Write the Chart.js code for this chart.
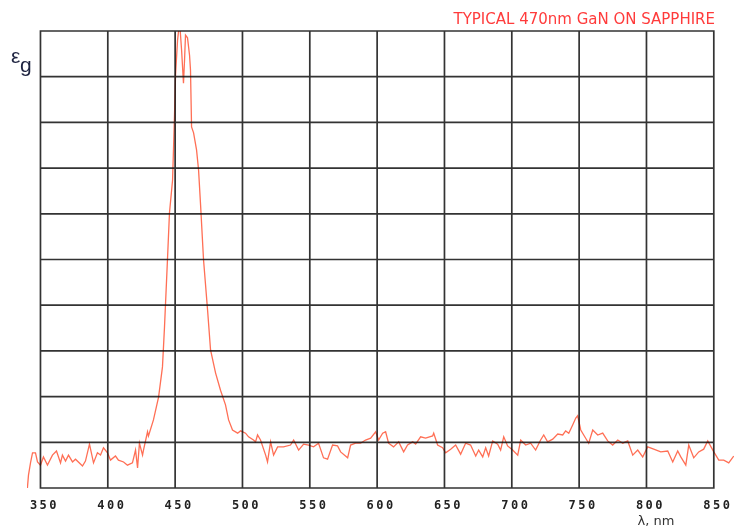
<!DOCTYPE html>
<html>
<head>
<meta charset="utf-8">
<script src="https://cdn.jsdelivr.net/npm/chart.js@4/dist/chart.umd.min.js"></script>
<style>
html,body{margin:0;padding:0;background:#fff;}
#wrap{width:734px;height:531px;position:relative;}
</style>
</head>
<body>
<div id="wrap"><canvas id="c" width="734" height="531"></canvas></div>
<script>
const titleText = 'TYPICAL 470nm GaN ON SAPPHIRE';
const xAxisTitle = 'λ, nm';
const xTicks = [350, 400, 450, 500, 550, 600, 650, 700, 750, 800, 850];
const yDivisions = [0, 1, 2, 3, 4, 5, 6, 7, 8, 9, 10];
const wavelengths = [
  340.3, 341.1, 342.6, 344.1, 346.3, 347.8, 350.0, 352.2, 355.2, 358.9,
  361.9, 364.9, 366.3, 368.6, 370.8, 373.8, 376.0, 381.2, 383.4, 386.4,
  389.4, 392.3, 394.6, 396.8, 399.8, 402.0, 405.7, 407.9, 411.7, 414.6,
  418.3, 420.6, 422.1, 423.5, 425.8, 426.5, 429.5, 430.2, 433.9, 437.7,
  440.6, 442.1, 444.3, 445.8, 448.1, 449.5, 450.3, 451.8, 453.3, 454.8,
  456.2, 457.0, 457.7, 459.2, 460.7, 461.4, 462.2, 463.7, 465.9, 467.4,
  468.9, 471.1, 474.1, 476.3, 480.0, 483.7, 487.4, 489.7, 492.6, 496.4,
  498.6, 502.3, 504.5, 508.2, 509.7, 511.2, 513.4, 517.2, 518.6, 520.9,
  523.1, 526.1, 530.5, 535.7, 538.0, 541.7, 545.4, 549.1, 552.8, 556.5,
  560.2, 563.2, 566.9, 570.6, 572.9, 578.1, 580.3, 584.0, 587.7, 591.4,
  595.2, 598.9, 601.1, 604.1, 606.3, 608.5, 612.2, 616.0, 619.7, 622.6,
  626.4, 628.6, 632.3, 636.0, 641.2, 642.0, 644.9, 648.6, 650.9, 654.6,
  658.3, 662.0, 665.7, 669.4, 673.2, 675.4, 678.4, 680.6, 682.8, 685.8,
  689.5, 691.7, 694.0, 696.9, 700.6, 704.4, 706.6, 710.3, 714.0, 717.7,
  721.4, 723.7, 726.6, 730.4, 734.1, 737.8, 740.0, 742.3, 745.2, 747.5,
  748.9, 751.2, 753.4, 757.1, 760.1, 763.8, 767.5, 771.2, 774.9, 778.7,
  782.4, 786.1, 789.8, 793.5, 797.2, 800.9, 805.4, 810.6, 815.8, 819.5,
  823.2, 825.5, 829.2, 831.4, 835.1, 838.8, 842.5, 845.5, 850.0, 853.7,
  857.4, 861.1, 864.8
];
const intensity = [
  0.00, 0.28, 0.55, 0.77, 0.77, 0.57, 0.50, 0.68, 0.50, 0.72,
  0.81, 0.55, 0.72, 0.59, 0.72, 0.57, 0.63, 0.48, 0.59, 0.96,
  0.55, 0.77, 0.72, 0.88, 0.77, 0.61, 0.70, 0.61, 0.57, 0.50,
  0.55, 0.83, 0.44, 0.98, 0.72, 0.83, 1.23, 1.14, 1.49, 1.99,
  2.65, 3.52, 4.99, 6.02, 6.74, 8.12, 9.04, 9.80, 10.20, 9.58,
  8.86, 9.37, 9.91, 9.85, 9.47, 9.15, 7.90, 7.77, 7.40, 6.96,
  6.19, 4.99, 3.89, 3.02, 2.52, 2.14, 1.82, 1.49, 1.27, 1.20,
  1.25, 1.20, 1.12, 1.05, 1.01, 1.16, 1.05, 0.72, 0.57, 1.01,
  0.72, 0.90, 0.90, 0.94, 1.05, 0.83, 0.96, 0.94, 0.90, 0.98,
  0.66, 0.63, 0.94, 0.92, 0.79, 0.66, 0.94, 0.98, 0.98, 1.05,
  1.09, 1.23, 1.05, 1.20, 1.23, 0.98, 0.90, 1.01, 0.79, 0.94,
  1.01, 0.96, 1.12, 1.09, 1.14, 1.20, 0.94, 0.88, 0.77, 0.85,
  0.94, 0.74, 0.98, 0.94, 0.70, 0.83, 0.68, 0.88, 0.70, 1.03,
  0.96, 0.83, 1.12, 0.92, 0.83, 0.72, 1.05, 0.94, 0.98, 0.83,
  1.05, 1.16, 1.01, 1.07, 1.18, 1.16, 1.25, 1.20, 1.38, 1.53,
  1.58, 1.27, 1.16, 0.98, 1.27, 1.16, 1.20, 1.03, 0.94, 1.05,
  0.98, 1.03, 0.72, 0.83, 0.68, 0.90, 0.85, 0.79, 0.81, 0.57,
  0.81, 0.68, 0.50, 0.94, 0.66, 0.79, 0.85, 1.03, 0.79, 0.61,
  0.61, 0.55, 0.70
];

const points = wavelengths.map((w, i) => ({x: w, y: intensity[i]}));

const decorPlugin = {
  id: 'decor',
  beforeDraw(chart) {
    chart.ctx.letterSpacing = '2.5px';
  },
  afterDatasetsDraw(chart) {
    const ctx = chart.ctx;
    const xs = chart.scales.x, ys = chart.scales.y;
    const x0 = xs.getPixelForValue(xTicks[0]);
    const x1 = xs.getPixelForValue(xTicks[xTicks.length - 1]);
    const yTop = ys.getPixelForValue(yDivisions[yDivisions.length - 1]);
    const yBot = ys.getPixelForValue(yDivisions[0]);
    ctx.save();
    ctx.letterSpacing = '0px';
    ctx.strokeStyle = 'rgba(15,15,15,0.85)';
    ctx.lineWidth = 1.7;
    ctx.beginPath();
    xTicks.forEach(v => {
      const px = xs.getPixelForValue(v);
      ctx.moveTo(px, yTop);
      ctx.lineTo(px, yBot);
    });
    yDivisions.forEach(v => {
      const py = ys.getPixelForValue(v);
      ctx.moveTo(x0 - 0.85, py);
      ctx.lineTo(x1 + 0.85, py);
    });
    ctx.stroke();
    // title
    ctx.fillStyle = '#ff3b3b';
    ctx.font = '15px "DejaVu Sans", sans-serif';
    ctx.textAlign = 'right';
    ctx.textBaseline = 'alphabetic';
    ctx.fillText(titleText, 715, 24);
    // y label epsilon_g
    ctx.fillStyle = '#1e2340';
    ctx.textAlign = 'left';
    ctx.font = '21px "Liberation Sans", Arial, sans-serif';
    ctx.fillText('ε', 11, 63);
    ctx.fillText('g', 20, 72);
    // x axis title
    ctx.fillStyle = '#333';
    ctx.font = '13px "DejaVu Sans", sans-serif';
    ctx.textAlign = 'center';
    ctx.textBaseline = 'middle';
    ctx.fillText(xAxisTitle, 656, 522);
    ctx.restore();
  }
};

new Chart(document.getElementById('c'), {
  type: 'line',
  data: {
    datasets: [{
      data: points,
      borderColor: '#ff6f55',
      borderWidth: 1.3,
      pointRadius: 0,
      tension: 0,
      fill: false
    }]
  },
  options: {
    responsive: false,
    animation: false,
    layout: {padding: {left: 27, right: 0, top: 31, bottom: 0}},
    plugins: {legend: {display: false}, tooltip: {enabled: false}, title: {display: false}},
    scales: {
      x: {
        type: 'linear',
        min: 340,
        max: 865,
        grid: {display: false, drawTicks: false},
        border: {display: false},
        afterBuildTicks: s => { s.ticks = xTicks.map(v => ({value: v})); },
        afterFit: s => { s.height = 43; s.paddingLeft = 0; s.paddingRight = 0; },
        ticks: {
          autoSkip: false,
          maxRotation: 0,
          padding: 11,
          labelOffset: 4,
          color: '#222',
          font: {family: '"DejaVu Sans Mono", monospace', size: 12, weight: 'bold'}
        }
      },
      y: {
        type: 'linear',
        min: 0,
        max: 10,
        display: false
      }
    }
  },
  plugins: [decorPlugin]
});
</script>
</body>
</html>
